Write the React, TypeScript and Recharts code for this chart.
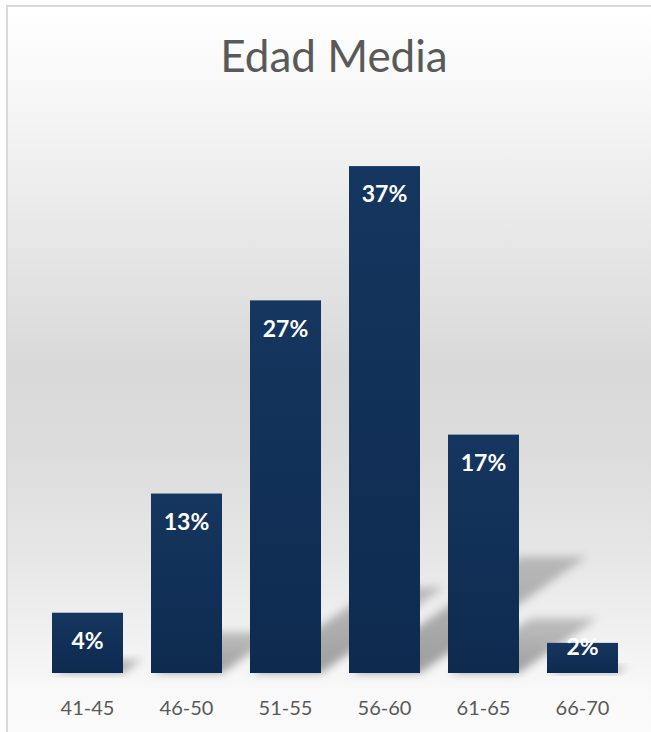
import React from 'react';
import { BarChart, Bar, XAxis, YAxis, LabelList } from 'recharts';

const categories = ['41-45', '46-50', '51-55', '56-60', '61-65', '66-70'];
const values = [4.4, 13.1, 27.2, 37.0, 17.4, 2.2];
const labels = ['4%', '13%', '27%', '37%', '17%', '2%'];
const title = 'Edad Media';

const data = categories.map((c, i) => ({ cat: c, value: values[i], label: labels[i] }));

const W = 651;
const H = 732;

const BarShape = (props: any) => {
  const { x, y, width, height } = props;
  const base = y + height;
  const sh = height * 0.23;
  const dx = height * 0.33;
  const pts = `${x + 2},${base} ${x + width},${base} ${x + width + dx},${base - sh} ${x + dx + 4},${base - sh}`;
  return (
    <g>
      <polygon points={pts} fill="url(#shadowGrad)" filter="url(#shadowBlur)" />
      <rect x={x} y={y} width={width} height={height} fill="url(#barGrad)" />
    </g>
  );
};

const BarLabel = (props: any) => {
  const { x, y, width, height, value } = props;
  const cy = height >= 56 ? y + 28 : y + height - 26;
  return (
    <text
      x={x + width / 2}
      y={cy}
      dy="0.36em"
      textAnchor="middle"
      fill="#ffffff"
      fontFamily="Lato, 'Open Sans', sans-serif"
      fontWeight={700}
      fontSize={23}
    >
      {value}
    </text>
  );
};

const Tick = (props: any) => {
  const { x, y, payload } = props;
  return (
    <text
      x={x}
      y={y}
      dy={34}
      textAnchor="middle"
      fill="#595959"
      fontFamily="Lato, 'Open Sans', sans-serif"
      fontSize={20}
    >
      {payload.value}
    </text>
  );
};

export default function App() {
  return (
    <div style={{ position: 'fixed', left: 0, top: 0, width: W, height: H, overflow: 'hidden', background: '#ffffff' }}>
      <svg width={0} height={0} style={{ position: 'absolute' }}>
        <defs>
          <linearGradient id="barGrad" x1="0" y1="0" x2="0" y2="1">
            <stop offset="0%" stopColor="#15365f" />
            <stop offset="100%" stopColor="#0e2a4f" />
          </linearGradient>
          <linearGradient id="shadowGrad" x1="0" y1="1" x2="0" y2="0">
            <stop offset="0%" stopColor="#000000" stopOpacity={0.36} />
            <stop offset="100%" stopColor="#000000" stopOpacity={0.2} />
          </linearGradient>
          <filter id="shadowBlur" x="-30%" y="-30%" width="160%" height="160%">
            <feGaussianBlur stdDeviation="4" />
          </filter>
        </defs>
      </svg>
      <div
        style={{
          position: 'absolute',
          left: 6,
          top: 5,
          width: 760,
          height: 800,
          borderLeft: '2px solid #d9d9d9',
          borderTop: '2px solid #d9d9d9',
          background:
            'linear-gradient(to bottom, #ffffff 0%, #f6f6f6 12%, #e6e6e6 30%, #d9d9d9 45%, #dcdcdc 55%, #e6e6e6 68%, #f0f0f0 78%, #f8f8f8 85%, #fcfcfc 92%)',
        }}
      />
      <svg width={W} height={100} style={{ position: 'absolute', left: 0, top: 0 }}>
        <text
          x={334}
          y={72}
          textAnchor="middle"
          fill="#595959"
          fontFamily="Lato, 'Open Sans', sans-serif"
          fontSize={44}
        >
          {title}
        </text>
      </svg>
      <div style={{ position: 'absolute', left: 0, top: 0 }}>
        <BarChart width={W} height={H} data={data} margin={{ top: 125, right: 19, bottom: 0, left: 38 }}>
          <XAxis dataKey="cat" axisLine={false} tickLine={false} height={59} tick={<Tick />} interval={0} />
          <YAxis hide domain={[0, 40]} />
          <Bar dataKey="value" barSize={71} shape={<BarShape />} isAnimationActive={false}>
            <LabelList dataKey="label" content={<BarLabel />} />
          </Bar>
        </BarChart>
      </div>
    </div>
  );
}
